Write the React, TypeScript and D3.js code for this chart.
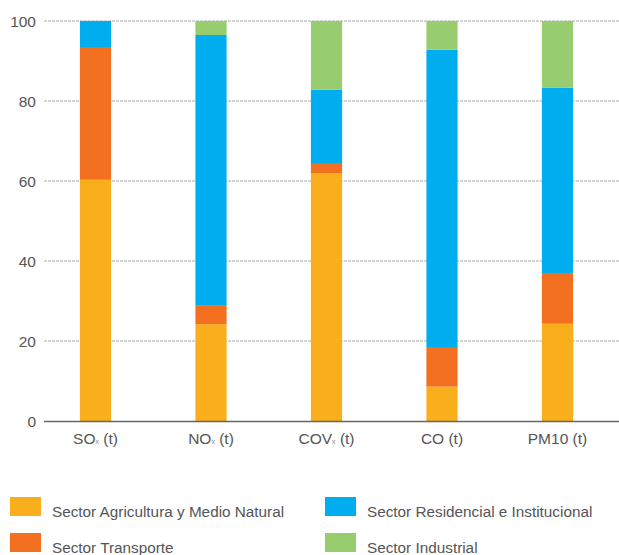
import React from "react";
import * as d3 from "d3";

const categories = ["SO", "NO", "COV", "CO", "PM10"];
const subscripts = ["x", "x", "x", "", ""];
const seriesNames = [
  "Sector Agricultura y Medio Natural",
  "Sector Transporte",
  "Sector Residencial e Institucional",
  "Sector Industrial",
];
const agricultura = [60.3, 24.2, 62.0, 8.6, 24.3];
const transporte = [33.2, 4.6, 2.5, 9.9, 12.7];
const residencial = [6.5, 67.7, 18.3, 74.3, 46.3];
const industrial = [0, 3.5, 17.2, 7.2, 16.7];
const yTicks = [0, 20, 40, 60, 80, 100];
const colors = ["#F9AE1B", "#F37021", "#00AEEF", "#97CD6F"];

const W = 619;
const H = 555;
const FONT = "'Liberation Sans', Arial, Helvetica, sans-serif";
const TEXT = "#555";

export default function App() {
  const series = [agricultura, transporte, residencial, industrial];
  const rows = categories.map((c, i) => {
    const r: any = { cat: c };
    series.forEach((s, k) => (r["s" + k] = s[i]));
    return r;
  });
  const stacked = d3.stack().keys(["s0", "s1", "s2", "s3"])(rows);

  const x = d3
    .scaleBand<string>()
    .domain(categories)
    .range([37.75, 615.25])
    .paddingInner(0.73)
    .paddingOuter(0.365);
  const y = d3.scaleLinear().domain([0, 100]).range([421, 21]);

  const legendPos = [
    { x: 10, y: 497 },
    { x: 10, y: 533 },
    { x: 325, y: 497 },
    { x: 325, y: 533 },
  ];

  return (
    <svg
      width={W}
      height={H}
      style={{ position: "absolute", left: 0, top: 0, background: "#fff" }}
      fontFamily={FONT}
    >
      {yTicks.map((t) => (
        <g key={t}>
          {t !== 0 && (
            <line
              x1={44}
              x2={W}
              y1={y(t)}
              y2={y(t)}
              stroke="#a8a8a8"
              strokeWidth={1}
              strokeDasharray="3,1"
            />
          )}
          <text
            x={36}
            y={y(t)}
            dy="0.36em"
            textAnchor="end"
            fontSize={15.5}
            fill={TEXT}
          >
            {t}
          </text>
        </g>
      ))}
      {stacked.map((layer, k) => (
        <g key={k} fill={colors[k]}>
          {layer.map((d, i) =>
            d[1] - d[0] > 0 ? (
              <rect
                key={i}
                x={x(categories[i])}
                width={x.bandwidth()}
                y={y(d[1])}
                height={y(d[0]) - y(d[1])}
              />
            ) : null
          )}
        </g>
      ))}
      <line x1={44} x2={W} y1={y(0) + 0.5} y2={y(0) + 0.5} stroke="#666" strokeWidth={1.6} />
      {categories.map((c, i) => (
        <text
          key={c}
          x={(x(c) as number) + x.bandwidth() / 2}
          y={443.5}
          textAnchor="middle"
          fontSize={15.5}
          fill={TEXT}
        >
          {c}
          {subscripts[i] && (
            <tspan fontSize={7} fill="#888">
              {subscripts[i]}
            </tspan>
          )}
          {" (t)"}
        </text>
      ))}
      {seriesNames.map((n, k) => (
        <g key={n}>
          <rect
            x={legendPos[k].x}
            y={legendPos[k].y}
            width={31}
            height={19}
            fill={colors[k]}
          />
          <text
            x={legendPos[k].x + 42}
            y={legendPos[k].y + 19.5}
            fontSize={15.3}
            fill={TEXT}
          >
            {n}
          </text>
        </g>
      ))}
    </svg>
  );
}
